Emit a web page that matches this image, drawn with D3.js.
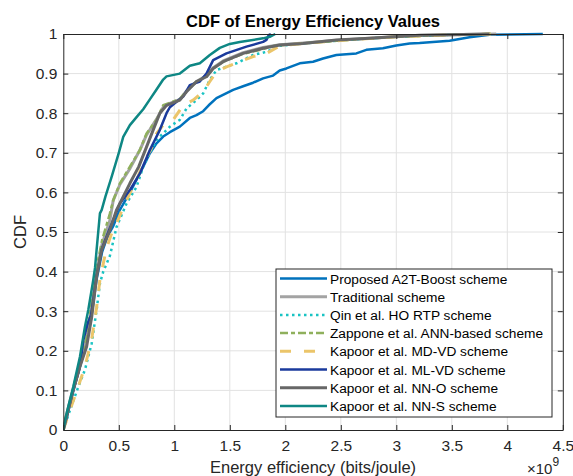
<!DOCTYPE html>
<html>
<head>
<meta charset="utf-8">
<script src="https://cdn.jsdelivr.net/npm/d3@7"></script>
<style>
  html, body { margin: 0; padding: 0; background: #ffffff; }
  svg { display: block; font-family: "Liberation Sans", Arial, Helvetica, sans-serif; }
</style>
</head>
<body>
<svg id="chart" width="573" height="476"></svg>
<script>
// Energy efficiency values are in units of 1e9 bits/joule (axis shows ×10^9)
const xTicks = [0, 0.5, 1, 1.5, 2, 2.5, 3, 3.5, 4, 4.5];
const yTicks = [0, 0.1, 0.2, 0.3, 0.4, 0.5, 0.6, 0.7, 0.8, 0.9, 1];
const xTickLabels = ["0", "0.5", "1", "1.5", "2", "2.5", "3", "3.5", "4", "4.5"];
const yTickLabels = ["0", "0.1", "0.2", "0.3", "0.4", "0.5", "0.6", "0.7", "0.8", "0.9", "1"];

const schemeNames = [
  "Proposed A2T-Boost scheme",
  "Traditional scheme",
  "Qin et al. HO RTP scheme",
  "Zappone et al. ANN-based scheme",
  "Kapoor et al. MD-VD scheme",
  "Kapoor et al. ML-VD scheme",
  "Kapoor et al. NN-O scheme",
  "Kapoor et al. NN-S scheme"
];

// Empirical CDF samples per scheme: efficiency (×1e9) and cumulative probability
const proposedX = [0, 0.03, 0.09, 0.15, 0.21, 0.25, 0.30, 0.35, 0.40, 0.45, 0.51, 0.60, 0.69, 0.78, 0.84, 0.90, 0.96, 1.05, 1.14, 1.20, 1.26, 1.31, 1.38, 1.53, 1.62, 1.71, 1.80, 1.89, 1.95, 2.01, 2.13, 2.25, 2.34, 2.46, 2.64, 2.73, 2.88, 3.00, 3.12, 3.21, 3.48, 3.66, 3.84, 4.32];
const proposedY = [0, 0.03, 0.10, 0.16, 0.22, 0.28, 0.38, 0.45, 0.49, 0.515, 0.556, 0.60, 0.648, 0.699, 0.724, 0.741, 0.752, 0.766, 0.788, 0.795, 0.805, 0.82, 0.838, 0.859, 0.868, 0.877, 0.888, 0.895, 0.908, 0.913, 0.926, 0.93, 0.938, 0.947, 0.951, 0.96, 0.964, 0.971, 0.976, 0.977, 0.983, 0.992, 0.998, 1.0];

const traditionalX = [0, 0.03, 0.09, 0.15, 0.21, 0.25, 0.30, 0.35, 0.42, 0.45, 0.51, 0.60, 0.69, 0.75, 0.84, 0.90, 0.96, 1.05, 1.11, 1.20, 1.29, 1.35, 1.44, 1.62, 1.80, 1.95, 2.20, 2.50, 2.80, 3.20, 3.60, 3.90];
const traditionalY = [0, 0.04, 0.105, 0.17, 0.23, 0.30, 0.40, 0.47, 0.53, 0.58, 0.62, 0.66, 0.707, 0.745, 0.785, 0.815, 0.825, 0.835, 0.856, 0.88, 0.895, 0.915, 0.932, 0.953, 0.966, 0.973, 0.978, 0.985, 0.99, 0.996, 0.999, 1.0];

const qinX = [0, 0.06, 0.135, 0.195, 0.256, 0.30, 0.33, 0.36, 0.42, 0.48, 0.57, 0.66, 0.72, 0.78, 0.84, 0.87, 0.96, 1.02, 1.05, 1.11, 1.20, 1.26, 1.32, 1.38, 1.56, 1.71, 1.83, 1.95, 2.20, 2.60, 3.00, 3.50, 3.85];
const qinY = [0, 0.05, 0.109, 0.152, 0.219, 0.303, 0.37, 0.40, 0.44, 0.513, 0.572, 0.614, 0.665, 0.70, 0.732, 0.741, 0.766, 0.778, 0.783, 0.812, 0.833, 0.85, 0.884, 0.909, 0.926, 0.947, 0.955, 0.97, 0.977, 0.986, 0.993, 0.998, 1.0];

const zapponeX = [0, 0.03, 0.09, 0.15, 0.21, 0.25, 0.30, 0.35, 0.42, 0.45, 0.51, 0.60, 0.69, 0.75, 0.84, 0.90, 0.96, 1.05, 1.11, 1.20, 1.29, 1.35, 1.44, 1.62, 1.80, 1.90, 2.20, 2.60, 3.00, 3.50, 3.85];
const zapponeY = [0, 0.04, 0.105, 0.17, 0.235, 0.31, 0.41, 0.48, 0.547, 0.58, 0.623, 0.665, 0.707, 0.749, 0.783, 0.82, 0.826, 0.836, 0.856, 0.88, 0.893, 0.913, 0.93, 0.95, 0.962, 0.97, 0.977, 0.986, 0.993, 0.998, 1.0];

const mdvdX = [0, 0.06, 0.135, 0.195, 0.256, 0.30, 0.33, 0.36, 0.39, 0.44, 0.48, 0.53, 0.60, 0.66, 0.72, 0.80, 0.84, 0.90, 0.99, 1.08, 1.17, 1.26, 1.32, 1.38, 1.47, 1.59, 1.71, 1.83, 1.95, 2.20, 2.60, 3.00, 3.50, 3.85];
const mdvdY = [0, 0.05, 0.11, 0.16, 0.23, 0.31, 0.38, 0.42, 0.46, 0.50, 0.522, 0.556, 0.598, 0.631, 0.673, 0.715, 0.749, 0.77, 0.783, 0.82, 0.833, 0.854, 0.88, 0.905, 0.917, 0.93, 0.943, 0.951, 0.97, 0.977, 0.986, 0.993, 0.998, 1.0];

const mlvdX = [0, 0.03, 0.09, 0.15, 0.18, 0.22, 0.25, 0.30, 0.35, 0.42, 0.51, 0.60, 0.69, 0.78, 0.87, 0.93, 0.96, 1.02, 1.08, 1.14, 1.23, 1.29, 1.35, 1.47, 1.65, 1.80, 1.83, 1.85, 1.87];
const mlvdY = [0, 0.034, 0.10, 0.16, 0.227, 0.27, 0.29, 0.39, 0.46, 0.51, 0.572, 0.606, 0.648, 0.707, 0.758, 0.80, 0.815, 0.829, 0.842, 0.871, 0.88, 0.90, 0.934, 0.951, 0.968, 0.98, 0.985, 0.997, 1.0];

const nnoX = [0, 0.03, 0.09, 0.15, 0.21, 0.256, 0.30, 0.346, 0.42, 0.48, 0.54, 0.60, 0.68, 0.75, 0.81, 0.87, 0.93, 1.05, 1.11, 1.20, 1.29, 1.35, 1.44, 1.62, 1.80, 1.95, 2.16, 2.46, 2.76, 2.97, 3.21, 3.48, 3.84];
const nnoY = [0, 0.034, 0.101, 0.16, 0.21, 0.286, 0.387, 0.455, 0.505, 0.556, 0.589, 0.623, 0.665, 0.715, 0.758, 0.80, 0.82, 0.833, 0.854, 0.88, 0.892, 0.913, 0.93, 0.951, 0.964, 0.972, 0.976, 0.985, 0.989, 0.993, 0.997, 0.998, 1.0];

const nnsX = [0, 0.02, 0.045, 0.09, 0.15, 0.195, 0.225, 0.27, 0.286, 0.30, 0.33, 0.346, 0.38, 0.436, 0.50, 0.54, 0.60, 0.66, 0.72, 0.78, 0.84, 0.90, 0.93, 1.05, 1.14, 1.23, 1.32, 1.41, 1.50, 1.59, 1.80, 1.86, 1.91];
const nnsY = [0, 0.03, 0.059, 0.109, 0.185, 0.261, 0.303, 0.379, 0.41, 0.455, 0.547, 0.556, 0.59, 0.64, 0.70, 0.74, 0.77, 0.79, 0.81, 0.835, 0.86, 0.885, 0.893, 0.90, 0.92, 0.926, 0.947, 0.965, 0.975, 0.98, 0.989, 0.993, 1.0];

const seriesX = [proposedX, traditionalX, qinX, zapponeX, mdvdX, mlvdX, nnoX, nnsX];
const seriesY = [proposedY, traditionalY, qinY, zapponeY, mdvdY, mlvdY, nnoY, nnsY];

// Styling per scheme (colour, width, dash)
const seriesColors = ["#0072BD", "#A3A3A3", "#19C3C3", "#8FB05C", "#EBC56A", "#1A3A9C", "#676767", "#0E8784"];
const seriesWidths = [2.5, 3, 2.5, 2.5, 3, 2.5, 3, 2.5];
const seriesDashes = [null, null, "2.5,3.5", "8,3,4,3", "11,13", null, null, null];

const svg = d3.select("#chart");
const margin = { left: 63.3, right: 10.2, top: 34, bottom: 46 };
const W = 573, H = 476;
const x = d3.scaleLinear().domain([0, 4.5]).range([margin.left, W - margin.right]);
const y = d3.scaleLinear().domain([0, 1]).range([H - margin.bottom, margin.top]);
const axisColor = "#262626";

// Grid
const grid = svg.append("g");
grid.selectAll("line.vx").data(xTicks.slice(1, -1)).join("line")
  .attr("x1", d => x(d)).attr("x2", d => x(d))
  .attr("y1", y(0)).attr("y2", y(1))
  .attr("stroke", "#e2e2e2").attr("stroke-width", 1);
grid.selectAll("line.hy").data(yTicks.slice(1, -1)).join("line")
  .attr("x1", x(0)).attr("x2", x(4.5))
  .attr("y1", d => y(d)).attr("y2", d => y(d))
  .attr("stroke", "#e2e2e2").attr("stroke-width", 1);

// Curves
const clip = svg.append("clipPath").attr("id", "plotclip").append("rect")
  .attr("x", x(0)).attr("y", y(1) - 2).attr("width", x(4.5) - x(0)).attr("height", y(0) - y(1) + 2);
const line = d3.line().x(d => x(d[0])).y(d => y(d[1]));
const curves = svg.append("g").attr("clip-path", "url(#plotclip)");
seriesX.forEach((xs, i) => {
  const pts = xs.map((v, k) => [v, seriesY[i][k]]);
  curves.append("path")
    .attr("d", line(pts))
    .attr("fill", "none")
    .attr("stroke", seriesColors[i])
    .attr("stroke-width", seriesWidths[i])
    .attr("stroke-linejoin", "round")
    .attr("stroke-dasharray", seriesDashes[i]);
});

// Axes (ticks inward on all sides, MATLAB box style)
const tickLen = 5;
const xAxisB = d3.axisBottom(x).tickValues(xTicks).tickFormat((d, i) => xTickLabels[i]).tickSizeInner(-tickLen).tickSizeOuter(0).tickPadding(10);
const xAxisT = d3.axisTop(x).tickValues(xTicks).tickFormat("").tickSizeInner(-tickLen).tickSizeOuter(0);
const yAxisL = d3.axisLeft(y).tickValues(yTicks).tickFormat((d, i) => yTickLabels[i]).tickSizeInner(-tickLen).tickSizeOuter(0).tickPadding(6);
const yAxisR = d3.axisRight(y).tickValues(yTicks).tickFormat("").tickSizeInner(-tickLen).tickSizeOuter(0);

function styleAxis(g) {
  g.select(".domain").attr("stroke", axisColor).attr("stroke-width", 1);
  g.selectAll(".tick line").attr("stroke", axisColor).attr("stroke-width", 1);
  g.selectAll(".tick text").attr("fill", axisColor).style("font-size", "15.5px")
    .style("font-family", "'Liberation Sans', Arial, sans-serif");
}
svg.append("g").attr("transform", `translate(0,${y(0)})`).call(xAxisB).call(styleAxis);
svg.append("g").attr("transform", `translate(0,${y(1)})`).call(xAxisT).call(styleAxis);
svg.append("g").attr("transform", `translate(${x(0)},0)`).call(yAxisL).call(styleAxis);
svg.append("g").attr("transform", `translate(${x(4.5)},0)`).call(yAxisR).call(styleAxis);

// Title and axis labels
svg.append("text").attr("x", (x(0) + x(4.5)) / 2).attr("y", 27)
  .attr("text-anchor", "middle").attr("font-weight", "bold").attr("font-size", "16.5px")
  .attr("fill", "#000").text("CDF of Energy Efficiency Values");
svg.append("text").attr("x", (x(0) + x(4.5)) / 2).attr("y", 473)
  .attr("text-anchor", "middle").attr("font-size", "16.5px")
  .attr("fill", axisColor).text("Energy efficiency (bits/joule)");
svg.append("text").attr("transform", `translate(26,${(y(0) + y(1)) / 2}) rotate(-90)`)
  .attr("text-anchor", "middle").attr("font-size", "16.5px")
  .attr("fill", axisColor).text("CDF");

// Exponent marker
const expo = svg.append("text").attr("x", 527).attr("y", 474).attr("font-size", "15px").attr("fill", axisColor);
expo.append("tspan").text("×10");
expo.append("tspan").attr("dy", -8).attr("font-size", "12px").text("9");

// Legend
const lg = svg.append("g");
const lgX = 276, lgY = 269, lgW = 276, lgH = 148, rowH = 18.2;
lg.append("rect").attr("x", lgX).attr("y", lgY).attr("width", lgW).attr("height", lgH)
  .attr("fill", "#fff").attr("stroke", axisColor).attr("stroke-width", 1);
schemeNames.forEach((name, i) => {
  const cy = lgY + 9.5 + i * rowH;
  lg.append("line").attr("x1", lgX + 4).attr("x2", lgX + 51).attr("y1", cy).attr("y2", cy)
    .attr("stroke", seriesColors[i]).attr("stroke-width", seriesWidths[i])
    .attr("stroke-dasharray", seriesDashes[i]);
  lg.append("text").attr("x", lgX + 54).attr("y", cy + 5).attr("font-size", "13.7px")
    .attr("fill", "#000").text(name);
});
</script>
</body>
</html>
